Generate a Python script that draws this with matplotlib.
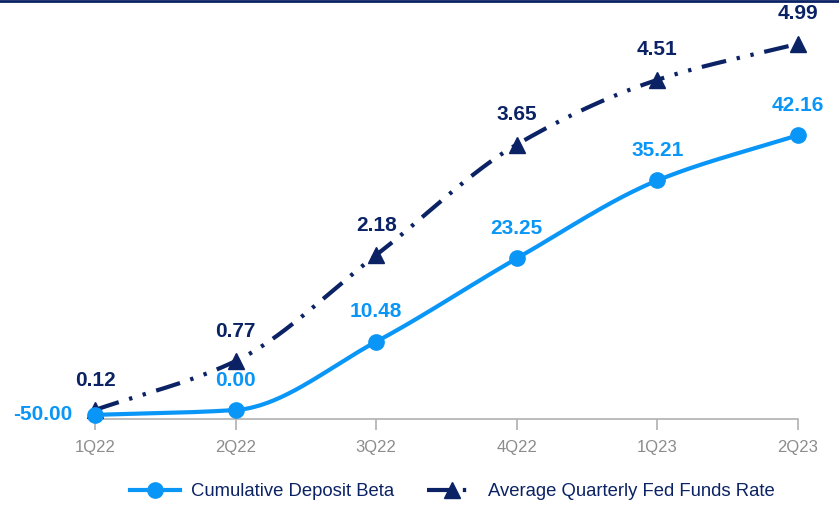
import numpy as np
import matplotlib
matplotlib.use("Agg")
import matplotlib.pyplot as plt
from matplotlib.lines import Line2D

quarters = ["1Q22", "2Q22", "3Q22", "4Q22", "1Q23", "2Q23"]
deposit_beta = [-50.00, 0.00, 10.48, 23.25, 35.21, 42.16]
fed_funds = [0.12, 0.77, 2.18, 3.65, 4.51, 4.99]

NAVY = "#0b2265"
BLUE = "#0a96f7"
GRAY = "#8c8c8c"

plt.rcParams["font.family"] = ["Liberation Sans", "DejaVu Sans"]


def pchip(x, y, n=40):
    x = np.asarray(x, float)
    y = np.asarray(y, float)
    h = np.diff(x)
    d = np.diff(y) / h
    m = np.zeros_like(y)
    for i in range(1, len(y) - 1):
        if d[i - 1] * d[i] > 0:
            w1 = 2 * h[i] + h[i - 1]
            w2 = h[i] + 2 * h[i - 1]
            m[i] = (w1 + w2) / (w1 / d[i - 1] + w2 / d[i])
    m[0] = d[0]
    m[-1] = d[-1]
    xs, ys = [], []
    for i in range(len(x) - 1):
        t = np.linspace(0, 1, n, endpoint=(i == len(x) - 2))
        h00 = 2 * t**3 - 3 * t**2 + 1
        h10 = t**3 - 2 * t**2 + t
        h01 = -2 * t**3 + 3 * t**2
        h11 = t**3 - t**2
        xs.append(x[i] + t * h[i])
        ys.append(h00 * y[i] + h10 * h[i] * m[i] + h01 * y[i + 1] + h11 * h[i] * m[i + 1])
    return np.concatenate(xs), np.concatenate(ys)


W, H = 839, 505
fig = plt.figure(figsize=(W / 100, H / 100), dpi=100)
x0, x1 = 95, 798
ytop, ybot = 30, 419
ax = fig.add_axes([x0 / W, (H - ybot) / H, (x1 - x0) / W, (ybot - ytop) / H])
ax2 = ax.twinx()

xs = np.arange(len(quarters))

fed_scale = 75.2
ax.set_ylim(0, (ybot - ytop) / fed_scale)
b_scale = 6.52
b_zero = 410
ax2.set_ylim(-(ybot - b_zero) / b_scale, (b_zero - ytop) / b_scale)
floor = -0.75
beta_plot = np.clip(np.array(deposit_beta), floor, None)

for a in (ax, ax2):
    a.set_xlim(0, 5)
    for s in a.spines.values():
        s.set_visible(False)
    a.set_yticks([])
ax.spines["bottom"].set_visible(True)
ax.spines["bottom"].set_color("#b0b0b0")
ax.spines["bottom"].set_linewidth(1.2)
ax.set_xticks(xs)
ax.set_xticklabels(quarters)
ax.tick_params(axis="x", colors="#b0b0b0", length=8, width=1.2, labelsize=12, labelcolor=GRAY, pad=7)
ax2.tick_params(axis="x", bottom=False, labelbottom=False)

DASH = (0, (6, 2.6, 0.8, 2.6, 0.8, 2.6))

fx, fy = pchip(xs, fed_funds)
ax.plot(fx, fy, color=NAVY, lw=3, linestyle=DASH, clip_on=False, zorder=3)
ax.plot(xs, fed_funds, "^", color=NAVY, ms=11, clip_on=False, zorder=4)

bx, by = pchip(xs, beta_plot)
ax2.plot(bx, by, color=BLUE, lw=3, clip_on=False, zorder=3, solid_capstyle="round")
ax2.plot(xs, beta_plot, "o", color=BLUE, ms=11, clip_on=False, zorder=4)

FS = 15
for i, v in enumerate(fed_funds):
    ax.annotate(f"{v:.2f}", (xs[i], v), xytext=(0, 21.5), textcoords="offset points",
                ha="center", va="center", fontsize=FS, fontweight="bold", color=NAVY,
                annotation_clip=False)
for i, v in enumerate(deposit_beta):
    if i == 0:
        ax2.annotate(f"{v:.2f}", (xs[i], beta_plot[i]), xytext=(-16, 0), textcoords="offset points",
                     ha="right", va="center", fontsize=FS, fontweight="bold", color=BLUE,
                     annotation_clip=False)
    else:
        ax2.annotate(f"{v:.2f}", (xs[i], beta_plot[i]), xytext=(0, 21.5), textcoords="offset points",
                     ha="center", va="center", fontsize=FS, fontweight="bold", color=BLUE,
                     annotation_clip=False)

fig.add_artist(Line2D([0, 1], [1 - 1 / H, 1 - 1 / H], transform=fig.transFigure, color=NAVY, lw=2))

handles = [
    Line2D([0], [0], color=BLUE, lw=3, marker="o", ms=11),
    Line2D([0], [0], color=NAVY, lw=3, marker="^", ms=11, linestyle=DASH),
]
leg = fig.legend(handles, ["Cumulative Deposit Beta", "Average Quarterly Fed Funds Rate"],
                 loc="center", bbox_to_anchor=(0.539, 1 - 492 / H), ncol=2, frameon=False,
                 fontsize=13.3, handlelength=2.7, columnspacing=1.8, handletextpad=0.6)
for t in leg.get_texts():
    t.set_color(NAVY)

fig.savefig("out.png", dpi=100)
